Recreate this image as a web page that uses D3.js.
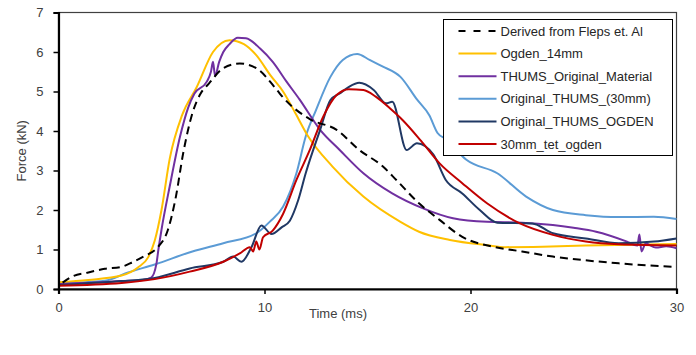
<!DOCTYPE html>
<html>
<head>
<meta charset="utf-8">
<script src="https://cdn.jsdelivr.net/npm/d3@7"></script>
<style>
  body { margin: 0; background: #fff; }
  svg { display: block; font-family: "Liberation Sans", Arial, sans-serif; }
  .tick text { fill: #404040; font-size: 13px; }
</style>
</head>
<body>
<div id="chart"></div>
<script>
// series, [time ms, force kN]
var fleps = [[0.2,0.16],[0.6,0.3],[1.45,0.42],[2.25,0.51],[3.06,0.56],[3.6,0.68],[4.2,0.84],[4.8,1.05],[5.3,1.48],[5.7,2.34],[6.05,3.43],[6.5,4.45],[6.9,4.95],[7.3,5.2],[8.0,5.59],[8.8,5.71],[9.6,5.59],[10.6,5.04],[10.9,4.85],[12.2,4.3],[13.5,4.03],[14.6,3.52],[15.75,3.1],[16.4,2.76],[17.5,2.17],[18.5,1.75],[19.6,1.32],[21.1,1.07],[22.5,0.95],[24,0.82],[25.5,0.73],[27.2,0.65],[28.5,0.6],[30,0.56]];
var ogden14 = [[0,0.17],[1.45,0.23],[3.06,0.34],[3.87,0.55],[4.35,0.8],[4.67,1.22],[5.0,2.0],[5.4,3.3],[6.0,4.4],[6.7,5.1],[7.5,6.0],[8.3,6.3],[9.0,6.2],[9.6,5.92],[10.3,5.4],[10.9,5.0],[11.5,4.45],[12.1,3.88],[13.3,3.1],[14.8,2.34],[16.6,1.7],[17.5,1.45],[19.0,1.24],[20.8,1.11],[21.7,1.06],[23.5,1.07],[25.6,1.1],[30,1.14]];
var thumsMaterial = [[0,0.12],[1,0.15],[2,0.17],[3,0.2],[4,0.22],[4.5,0.29],[4.75,0.63],[4.85,1.0],[5.0,1.5],[5.4,2.6],[5.9,3.86],[6.3,4.6],[6.6,4.95],[7.2,5.25],[7.4,5.5],[7.5,5.75],[7.6,5.4],[7.8,5.75],[8.0,6.0],[8.3,6.2],[8.7,6.36],[9.1,6.35],[9.8,6.08],[10.4,5.75],[11.07,5.25],[11.7,4.8],[12.7,4.03],[13.65,3.52],[14.8,2.93],[16.2,2.42],[17.7,2.04],[19.15,1.79],[20.8,1.7],[22.5,1.68],[24,1.62],[25,1.55],[26.1,1.45],[27.6,1.2],[28.1,1.1],[28.2,1.38],[28.3,0.95],[28.5,1.15],[29,1.05],[29.5,1.08],[30,1.03]];
var thums30 = [[0,0.15],[2.25,0.21],[3.38,0.42],[4.67,0.62],[6.5,0.95],[8.0,1.16],[9.6,1.41],[10.25,1.7],[10.9,2.08],[11.55,2.93],[12.0,3.86],[12.5,4.53],[13.2,5.37],[13.8,5.8],[14.5,5.95],[15.1,5.8],[15.75,5.63],[16.6,5.37],[17.4,4.8],[18.0,4.4],[18.4,3.95],[18.8,3.8],[19.8,3.27],[21.3,2.93],[22.7,2.34],[24,2.0],[25.6,1.87],[27.2,1.82],[28.9,1.83],[30,1.77]];
var thumsOgden = [[0,0.1],[3.06,0.2],[4.67,0.28],[6.37,0.52],[8.0,0.69],[8.48,0.82],[8.88,0.69],[9.37,1.06],[9.85,1.61],[10.34,1.39],[10.83,1.56],[11.23,1.73],[11.63,2.24],[12.0,2.93],[12.7,4.03],[13.2,4.78],[13.65,4.95],[14.1,5.12],[14.6,5.22],[15.3,5.04],[15.9,4.7],[16.2,4.74],[16.9,3.52],[17.4,3.69],[18.2,3.4],[18.8,2.76],[19.6,2.42],[20.45,2.0],[21.3,1.68],[23.0,1.66],[24,1.41],[25.6,1.28],[27.2,1.16],[28.9,1.2],[30,1.28]];
var tetOgden = [[0,0.08],[3.06,0.15],[4.67,0.25],[6.37,0.44],[8.0,0.69],[8.8,0.9],[9.29,1.06],[9.45,0.95],[9.6,1.2],[9.75,1.0],[9.93,1.31],[10.4,1.48],[10.9,1.9],[11.55,2.76],[12.2,3.52],[12.85,4.36],[13.5,4.91],[14.1,5.06],[14.8,5.04],[15.4,4.87],[16.1,4.57],[16.7,4.28],[17.6,3.75],[18.5,3.18],[19.6,2.68],[20.8,2.17],[22.4,1.66],[24,1.37],[25.6,1.2],[27.2,1.13],[30,1.1]];

var seriesNames = ["Derived from Fleps et. Al", "Ogden_14mm", "THUMS_Original_Material", "Original_THUMS_(30mm)", "Original_THUMS_OGDEN", "30mm_tet_ogden"];
var seriesColors = ["#000000", "#FFC000", "#7030A0", "#5B9BD5", "#203864", "#C00000"];
var xTicks = [0, 10, 20, 30];
var yTicks = [0, 1, 2, 3, 4, 5, 6, 7];

var width = 696, height = 355;
var margin = {top: 12.5, right: 19.5, bottom: 66, left: 58.5};
var w = width - margin.left - margin.right;
var h = height - margin.top - margin.bottom;

var svg = d3.select("#chart").append("svg")
    .attr("width", width)
    .attr("height", height);
var g = svg.append("g").attr("transform", "translate(" + margin.left + "," + margin.top + ")");

var x = d3.scaleLinear().domain([0, 30]).range([0, w]);
var y = d3.scaleLinear().domain([0, 7]).range([h, 0]);

// plot frame
g.append("rect")
    .attr("width", w).attr("height", h)
    .attr("fill", "none").attr("stroke", "#404040").attr("stroke-width", 1.2);

var data = [fleps, ogden14, thumsMaterial, thums30, thumsOgden, tetOgden];
// draw order: dashed last so it sits on top
var order = [3, 1, 2, 4, 5, 0];

var line = d3.line()
    .x(function(d) { return x(d[0]); })
    .y(function(d) { return y(d[1]); })
    .curve(d3.curveMonotoneX);

order.forEach(function(i) {
    g.append("path")
        .datum(data[i])
        .attr("fill", "none")
        .attr("stroke", seriesColors[i])
        .attr("stroke-width", 2)
        .attr("stroke-linejoin", "round")
        .attr("stroke-dasharray", i == 0 ? "8,5" : null)
        .attr("d", line);
});

// axes
var xAxis = g.append("g")
    .attr("transform", "translate(0," + h + ")")
    .call(d3.axisBottom(x).tickValues(xTicks).tickFormat(d3.format("d")).tickSize(5).tickPadding(9));
var yAxis = g.append("g")
    .call(d3.axisLeft(y).tickValues(yTicks).tickFormat(d3.format("d")).tickSize(5).tickPadding(10));
[xAxis, yAxis].forEach(function(a) {
    a.select(".domain").attr("stroke", "#000").attr("stroke-width", 2.2);
    a.selectAll(".tick line").attr("stroke", "#000").attr("stroke-width", 1.5);
    a.selectAll(".tick text").attr("font-family", null);
});

svg.append("text")
    .attr("x", 338).attr("y", 318)
    .attr("text-anchor", "middle")
    .attr("fill", "#404040").attr("font-size", 13)
    .text("Time (ms)");

svg.append("text")
    .attr("transform", "translate(26," + (margin.top + h / 2) + ") rotate(-90)")
    .attr("text-anchor", "middle")
    .attr("fill", "#404040").attr("font-size", 13)
    .text("Force (kN)");

// legend
var legend = svg.append("g").attr("transform", "translate(443.5,19.5)");
legend.append("rect")
    .attr("width", 229).attr("height", 136)
    .attr("fill", "#fff").attr("stroke", "#000").attr("stroke-width", 1);

seriesNames.forEach(function(name, i) {
    var row = legend.append("g").attr("transform", "translate(0," + (11.5 + i * 22.6) + ")");
    row.append("line")
        .attr("x1", 15).attr("x2", 53)
        .attr("stroke", seriesColors[i]).attr("stroke-width", 2)
        .attr("stroke-dasharray", i == 0 ? "7,8" : null);
    row.append("text")
        .attr("x", 57).attr("dy", "0.35em")
        .attr("font-size", 13).attr("fill", "#262626")
        .text(name);
});
</script>
</body>
</html>
